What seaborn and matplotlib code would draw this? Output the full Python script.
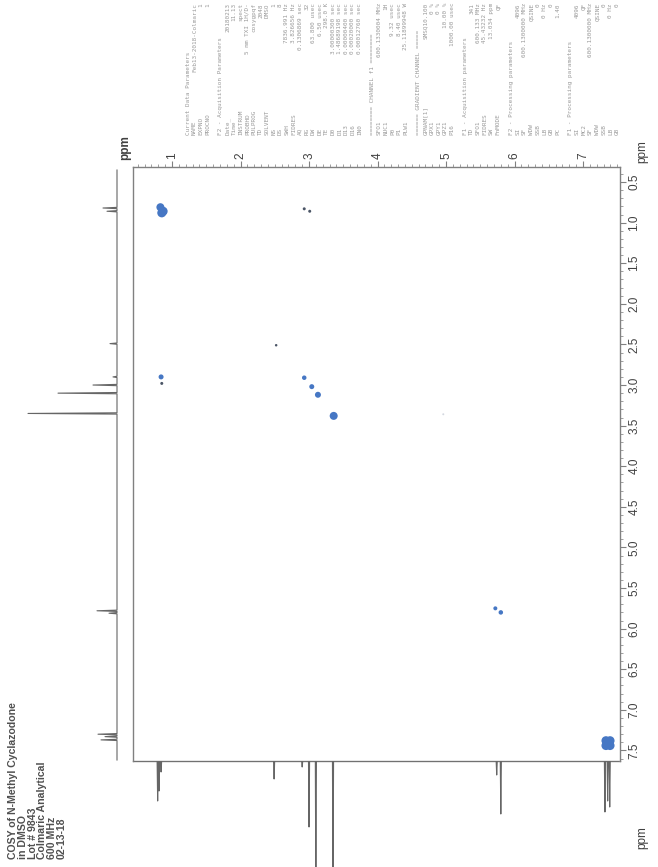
"""COSY of N-Methyl Cyclazodone - rotated scan look"""

import numpy as np
import pandas as pd
import matplotlib.pyplot as plt
import seaborn as sns

# 1D projection along F2 (bottom trace): ppm and height (px below baseline)
f2_ppm = [0.79, 0.81, 0.84, 2.49, 2.90, 3.00, 3.10, 3.35, 5.74, 5.80, 7.32, 7.36, 7.39]
f2_height = [40, 30, 11, 18, 6, 66, 140, 140, 14, 53, 51, 40, 46]

# 1D projection along F1 (left trace)
f1_ppm = [0.82, 0.86, 2.49, 2.90, 3.00, 3.10, 3.35, 5.78, 5.81, 7.30, 7.33, 7.37]
f1_height = [14, 10, 7, 4, 24, 59, 89, 20, 8, 19, 12, 16]

# cross peaks (F2 ppm, F1 ppm, blob diameter px, kind)
cp_f2 = [0.83, 0.87, 0.85, 2.93, 3.01, 2.52, 0.84, 0.85, 2.93, 3.04, 3.13, 3.36,
         4.96, 5.72, 5.80, 7.335, 7.395, 7.335, 7.395]
cp_f1 = [0.81, 0.86, 0.88, 0.83, 0.86, 2.51, 2.90, 2.98, 2.91, 3.02, 3.12, 3.38,
         3.36, 5.75, 5.80, 7.38, 7.38, 7.44, 7.44]
cp_diam = [8, 9, 9, 3, 3, 2.5, 5, 3, 4.5, 5, 6, 8, 2, 4, 4.5, 9, 9, 9, 9]
cp_kind = ['blue', 'blue', 'blue', 'dark', 'dark', 'dark', 'blue', 'dark', 'blue',
           'blue', 'blue', 'blue', 'faint', 'blue', 'blue', 'blue', 'blue', 'blue', 'blue']

top_ticks = [1, 2, 3, 4, 5, 6, 7]
right_ticks = [0.5, 1.0, 1.5, 2.0, 2.5, 3.0, 3.5, 4.0, 4.5, 5.0, 5.5, 6.0, 6.5, 7.0, 7.5]

title_lines = ['COSY of N-Methyl Cyclazodone', 'in DMSO', 'Lot # 9843',
               'Colmaric Analytical', '600 MHz', '02-13-18']

param_names = ['Current Data Parameters', 'NAME', 'EXPNO', 'PROCNO', '',
               'F2 - Acquisition Parameters', 'Date_', 'Time', 'INSTRUM', 'PROBHD',
               'PULPROG', 'TD', 'SOLVENT', 'NS', 'DS', 'SWH', 'FIDRES', 'AQ', 'RG',
               'DW', 'DE', 'TE', 'D0', 'D1', 'D13', 'D16', 'IN0', '',
               '======== CHANNEL f1 ========', 'SFO1', 'NUC1', 'P0', 'P1', 'PLW1', '',
               '====== GRADIENT CHANNEL =====', 'GPNAM[1]', 'GPX1', 'GPY1', 'GPZ1', 'P16', '',
               'F1 - Acquisition parameters', 'TD', 'SFO1', 'FIDRES', 'SW', 'FnMODE', '',
               'F2 - Processing parameters', 'SI', 'SF', 'WDW', 'SSB', 'LB', 'GB', 'PC', '',
               'F1 - Processing parameters', 'SI', 'MC2', 'SF', 'WDW', 'SSB', 'LB', 'GB']
param_values = ['', 'Feb13-2018-Colmaric', '1', '1', '',
                '', '20180213', '11.13', 'spect', '5 mm TXI 1H/D-',
                'cosygpqf', '2048', 'DMSO', '1', '8', '7836.991 Hz', '3.826656 Hz',
                '0.1306869 sec', '32', '63.800 usec', '6.50 usec', '298.0 K',
                '3.00000300 sec', '1.48689198 sec', '0.00000400 sec', '0.00020000 sec',
                '0.00012760 sec', '',
                '', '600.1330004 MHz', '1H', '9.32 usec', '8.40 usec', '25.11899948 W', '',
                '', 'SMSQ10.100', '0 %', '0 %', '10.00 %', '1000.00 usec', '',
                '', '341', '600.133 MHz', '45.43232 Hz', '13.034 ppm', 'QF', '',
                '', '4096', '600.1300000 MHz', 'QSINE', '0', '0 Hz', '0', '1.40', '',
                '', '4096', 'QF', '600.1300000 MHz', 'QSINE', '0', '0 Hz', '0']

W, H = 658, 867
def fx(px):
    return px / W
def fy(py):
    return 1 - py / H

sns.set_style('white')
plt.rcParams['font.family'] = ['Liberation Sans', 'DejaVu Sans']

xlim = (0.43, 7.54)
ylim = (7.63, 0.315)
gray = '#666666'

fig = plt.figure(figsize=(W / 100, H / 100), dpi=100)

# main 2D box
ax = fig.add_axes([fx(133), fy(761), (620 - 133) / W, (761 - 167) / H])
cp_df = pd.DataFrame({'f2': cp_f2, 'f1': cp_f1, 's': [(0.72 * d) ** 2 for d in cp_diam],
                      'kind': cp_kind})
colors = {'blue': '#4677c4', 'dark': '#4b5566', 'faint': '#d4d8e0'}
for kind, sub in cp_df.groupby('kind'):
    sns.scatterplot(data=sub, x='f2', y='f1', s=sub['s'].values, color=colors[kind],
                    edgecolor='none', legend=False, ax=ax)
ax.set_xlim(*xlim)
ax.set_ylim(*ylim)
ax.set_xlabel('')
ax.set_ylabel('')
for sp in ax.spines.values():
    sp.set_color('#808080')
    sp.set_linewidth(1.0)
ax.xaxis.tick_top()
ax.yaxis.tick_right()
ax.set_xticks(top_ticks)
ax.set_xticks(np.arange(0.5, 7.55, 0.1), minor=True)
ax.set_yticks(right_ticks)
ax.set_yticks(np.arange(0.4, 7.65, 0.1), minor=True)
ax.set_xticklabels([str(t) for t in top_ticks], rotation=90, fontsize=8.5, color='#404040')
ax.set_yticklabels(['%.1f' % t for t in right_ticks], rotation=90, fontsize=8.5,
                   color='#404040', va='center')
ax.tick_params(which='major', direction='out', length=4, width=0.8, color='#808080', pad=2)
ax.tick_params(which='minor', direction='out', length=2, width=0.6, color='#909090')

# trace built from the peak lists: baseline, spike, baseline
def trace(ppm, height, lo, hi, w=0.008):
    xs, ys = [lo], [0]
    for p, h in sorted(zip(ppm, height)):
        xs += [p - w, p, p + w]
        ys += [0, h, 0]
    xs.append(hi)
    ys.append(0)
    return xs, ys

# bottom trace (F2 projection)
axb = fig.add_axes([fx(133), 0, (620 - 133) / W, fy(761)])
bx, by = trace(f2_ppm, f2_height, xlim[0] + 0.02, xlim[1] - 0.02)
sns.lineplot(x=bx, y=by, sort=False, estimator=None, color=gray, lw=0.8, ax=axb)
axb.set_xlim(*xlim)
axb.set_ylim(106, 0)
axb.axis('off')

# left trace (F1 projection)
axl = fig.add_axes([0, fy(761), 133 / W, (761 - 167) / H])
ly, lx = trace(f1_ppm, f1_height, 0.35, 7.62)
sns.lineplot(x=lx, y=ly, sort=False, estimator=None, orient='y', color=gray, lw=0.8, ax=axl)
axl.set_xlim(117, -16)
axl.set_ylim(*ylim)
axl.axis('off')

# ppm labels
fig.text(fx(125), fy(148), 'ppm', rotation=90, fontsize=8.5, color='#404040',
         ha='center', va='center', fontweight='bold')
fig.text(fx(642), fy(152), 'ppm', rotation=90, fontsize=8.5, color='#404040',
         ha='center', va='center')
fig.text(fx(642), fy(838), 'ppm', rotation=90, fontsize=8.5, color='#404040',
         ha='center', va='center')

# sample description, bottom left
for i, line in enumerate(title_lines):
    fig.text(fx(13 + i * 9.8), fy(859), line, rotation=90, rotation_mode='anchor',
             ha='left', va='center', fontsize=7.6, fontweight='bold', color='#505050')

# acquisition parameter listing, top
for i, (name, val) in enumerate(zip(param_names, param_values)):
    x = fx(188 + i * 6.6)
    if name:
        fig.text(x, fy(135), name, rotation=90, rotation_mode='anchor', ha='left',
                 va='center', fontsize=4.3, color='#9a9a9a', family='DejaVu Sans Mono')
    if val:
        fig.text(x, fy(3), val, rotation=90, rotation_mode='anchor', ha='right',
                 va='center', fontsize=4.3, color='#9a9a9a', family='DejaVu Sans Mono')

fig.savefig('out.png', dpi=100)
